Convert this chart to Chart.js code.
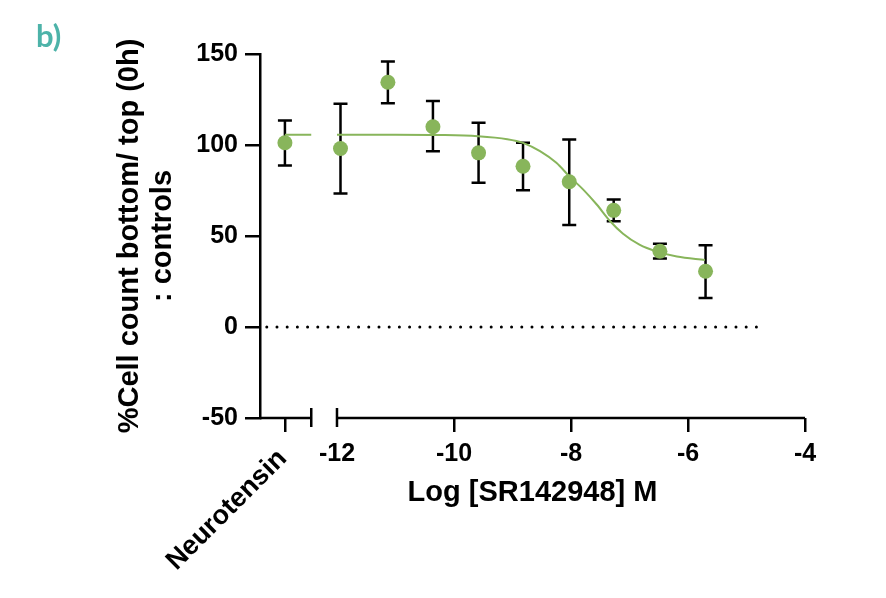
<!DOCTYPE html>
<html>
<head>
<meta charset="utf-8">
<script src="https://cdn.jsdelivr.net/npm/chart.js@4.4.0/dist/chart.umd.min.js"></script>
<style>
  body { margin: 0; background: #fff; }
</style>
</head>
<body>
<canvas id="myChart" width="886" height="598"></canvas>
<script>
// control group, drawn left of the axis break
const controlLabel = 'Neurotensin';
const controlX = -12.89;
const controlMean = 101.2;
const controlHigh = 113.5;
const controlLow = 88.8;

// Log [SR142948] M
const logDose = [-11.94, -11.13, -10.36, -9.58, -8.82, -8.03, -7.27, -6.48, -5.70];
const meanCount = [98.1, 134.5, 110, 95.7, 88.3, 79.8, 64.1, 41.6, 30.6];
const errHigh = [122.7, 145.9, 124.2, 112.2, 101.2, 103, 70, 45.8, 44.9];
const errLow = [73.3, 123, 96.5, 79.2, 75.1, 56.1, 58.1, 37.7, 16];

// fitted curve (null = gap at the axis break)
const fitX = [-12.89, -12.44, -12.2, -12, -11, -10.24, -9.59, -9.09, -8.82, -8.53, -8.25, -8.02, -7.79, -7.56, -7.33, -7.11, -6.83, -6.53, -6.19, -5.71];
const fitY = [105.7, 105.7, null, 105.7, 105.7, 105.5, 104.8, 103.2, 101.2, 96.6, 90.2, 82.5, 75.5, 67.3, 58.1, 51.2, 45.2, 41.4, 38.7, 36.8];

const xTicks = [-12, -10, -8, -6, -4];
const yTicks = [-50, 0, 50, 100, 150];
const axisBreak = [-12.44, -12];
const zeroLine = [-13.2, -4.8];

const green = '#88b55b';
const font = 'Liberation Sans';

const extras = {
  id: 'extras',
  beforeDatasetsDraw(chart) {
    const { ctx, scales: { x, y } } = chart;
    const xs = [controlX, ...logDose];
    const hi = [controlHigh, ...errHigh];
    const lo = [controlLow, ...errLow];
    ctx.save();
    ctx.strokeStyle = '#000';
    ctx.lineWidth = 2.5;
    xs.forEach((v, i) => {
      const px = x.getPixelForValue(v);
      const top = y.getPixelForValue(hi[i]);
      const bot = y.getPixelForValue(lo[i]);
      ctx.beginPath();
      ctx.moveTo(px, top); ctx.lineTo(px, bot);
      ctx.moveTo(px - 7, top); ctx.lineTo(px + 7, top);
      ctx.moveTo(px - 7, bot); ctx.lineTo(px + 7, bot);
      ctx.stroke();
    });
    ctx.restore();
  },
  afterDraw(chart) {
    const { ctx, chartArea, scales: { x } } = chart;
    const b = chartArea.bottom;
    const p0 = x.getPixelForValue(axisBreak[0]);
    const p1 = x.getPixelForValue(axisBreak[1]);
    ctx.save();
    // broken x axis
    ctx.strokeStyle = '#000';
    ctx.lineWidth = 2.5;
    ctx.beginPath();
    ctx.moveTo(chartArea.left, b); ctx.lineTo(p0, b);
    ctx.moveTo(p1, b); ctx.lineTo(chartArea.right, b);
    ctx.moveTo(p0, b - 10); ctx.lineTo(p0, b + 9);
    ctx.moveTo(p1, b - 10); ctx.lineTo(p1, b + 9);
    ctx.stroke();

    // control label, slanted
    ctx.save();
    ctx.translate(x.getPixelForValue(controlX) - 58, b + 92);
    ctx.rotate(-Math.PI / 4);
    ctx.fillStyle = '#000';
    ctx.font = 'bold 27px "' + font + '"';
    ctx.textAlign = 'center';
    ctx.textBaseline = 'middle';
    ctx.fillText(controlLabel, 0, 0);
    ctx.restore();

    // panel letter
    ctx.fillStyle = '#4db3a9';
    ctx.font = 'bold 31px Lato';
    ctx.textAlign = 'left';
    ctx.textBaseline = 'alphabetic';
    ctx.fillText('b)', 36, 47);
    ctx.restore();
  }
};

const ctx1 = document.getElementById('myChart').getContext('2d');
new Chart(ctx1, {
  type: 'scatter',
  data: {
    datasets: [
      {
        label: 'SR142948',
        data: [controlX, ...logDose].map((v, i) => ({ x: v, y: [controlMean, ...meanCount][i] })),
        backgroundColor: green,
        borderWidth: 0,
        pointRadius: 7.5
      },
      {
        type: 'line',
        label: 'Fit',
        data: fitX.map((v, i) => ({ x: v, y: fitY[i] })),
        borderColor: green,
        borderWidth: 2,
        pointRadius: 0,
        cubicInterpolationMode: 'monotone',
        spanGaps: false,
        fill: false
      },
      {
        type: 'line',
        label: 'zero',
        data: zeroLine.map(v => ({ x: v, y: 0 })),
        borderColor: '#000',
        borderWidth: 3,
        borderDash: [0, 10.2],
        borderCapStyle: 'round',
        pointRadius: 0,
        fill: false
      }
    ]
  },
  options: {
    responsive: false,
    animation: false,
    layout: { padding: { top: 54, right: 81, left: 0, bottom: 0 } },
    plugins: {
      legend: { display: false },
      tooltip: { enabled: false }
    },
    scales: {
      x: {
        type: 'linear',
        min: -13.316,
        max: -4,
        afterBuildTicks: s => { s.ticks = [controlX, ...xTicks].map(v => ({ value: v })); },
        afterFit: s => { s.height = 180; },
        border: { display: false },
        grid: {
          drawOnChartArea: false,
          tickLength: 14,
          lineWidth: 2.5,
          tickWidth: 2.5,
          tickColor: c => (c.tick && c.tick.value === -12) ? 'rgba(0,0,0,0)' : '#000'
        },
        ticks: {
          autoSkip: false,
          maxRotation: 0,
          padding: 7,
          color: '#000',
          font: { family: font, size: 25, weight: 'bold' },
          callback: v => (v === controlX ? '' : v)
        },
        title: {
          display: true,
          text: 'Log [SR142948] M',
          color: '#000',
          font: { family: font, size: 29, weight: 'bold', lineHeight: 1.15 },
          padding: { top: 0, bottom: 88 }
        }
      },
      y: {
        min: -50,
        max: 150,
        afterBuildTicks: s => { s.ticks = yTicks.map(v => ({ value: v })); },
        afterFit: s => { s.width = 260; },
        border: { display: true, color: '#000', width: 2.5 },
        grid: {
          drawOnChartArea: false,
          tickLength: 15,
          lineWidth: 2.5,
          tickWidth: 2.5,
          tickColor: '#000'
        },
        ticks: {
          padding: 7,
          color: '#000',
          font: { family: font, size: 25, weight: 'bold' }
        },
        title: {
          display: true,
          text: ['%Cell count bottom/ top (0h)', ': controls'],
          color: '#000',
          font: { family: font, size: 29, weight: 'bold', lineHeight: 1.12 },
          padding: { top: 114, bottom: 0 }
        }
      }
    }
  },
  plugins: [extras]
});
</script>
</body>
</html>
